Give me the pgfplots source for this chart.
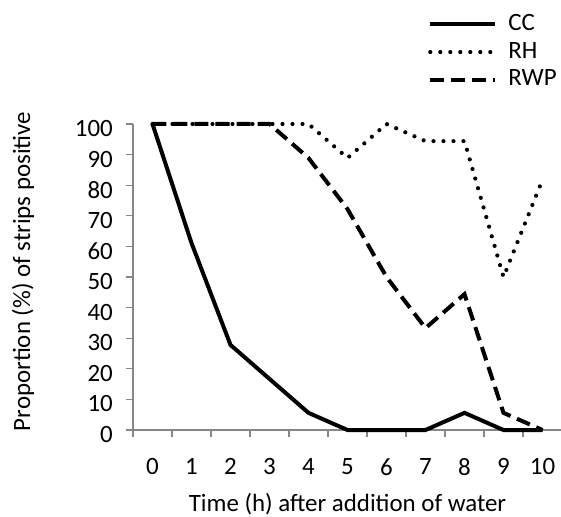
\documentclass[border=0pt]{standalone}
\usepackage{fontspec}
\setmainfont{Carlito}
\usepackage{pgfplots}
\pgfplotsset{compat=1.18}
\definecolor{axisgray}{RGB}{134,134,134}
\begin{document}
\fontsize{25}{30}\selectfont
\begin{tikzpicture}[font=\fontsize{25}{30}\selectfont]
\path[use as bounding box] (-133bp,-87bp) rectangle (428bp,430bp);
\begin{axis}[
    at={(0,0)}, anchor=south west,
    width=429bp, height=306bp, scale only axis,
    xmin=-0.5, xmax=10.5, ymin=0, ymax=100,
    axis x line=bottom, axis y line=left,
    axis line style={-, draw=axisgray, line width=1.2bp},
    xtick={0,...,10}, ytick={0,10,...,100},
    minor xtick={-0.5,0.5,...,10.5},
    tick align=outside,
    major tick length=7bp, minor tick length=7bp,
    tick style={axisgray, line width=1.2bp},
    major x tick style={draw=none},
    /pgf/number format/assume math mode=true,
    tick label style={font=\fontsize{25}{30}\selectfont, inner sep=0pt},
    xticklabel style={anchor=north, yshift=-21bp},
    yticklabel style={anchor=east, xshift=-13bp, yshift=-4.5bp},
    xlabel={Time (h) after addition of water},
    ylabel={Proportion (\%) of strips positive},
    label style={font=\fontsize{25}{30}\selectfont, inner sep=0pt},
    xlabel style={at={(axis description cs:0.5,-0.265)}, anchor=base},
    ylabel style={at={(axis description cs:-0.24,0.518)}, anchor=base},
    clip=false,
    legend style={at={(axis description cs:0.6876,1.365)}, anchor=north west,
        draw=none, fill=none, font=\fontsize{25}{30}\selectfont,
        inner sep=0pt, row sep=4bp,
        cells={anchor=west, inner sep=0pt, text height=16bp, text depth=0bp}},
    legend image code/.code={\draw[#1] (0bp,0bp) -- (65bp,0bp);},
]

\addplot[black, line width=4bp] coordinates {
    (0,100) (1,61.1) (2,27.8) (3,16.7) (4,5.6) (5,0) (6,0) (7,0) (8,5.6) (9,0) (10,0)
};
\addlegendentry{\hspace{9bp}CC}

\addplot[black, line width=4.2bp, line cap=round, dash pattern=on 0bp off 10bp] coordinates {
    (0,100) (1,100) (2,100) (3,100) (4,100) (5,88.9) (6,100) (7,94.4) (8,94.4) (9,50) (10,81.8)
};
\addlegendentry{\hspace{9bp}RH}

\addplot[black, line width=4bp, dash pattern=on 14bp off 7bp] coordinates {
    (0,100) (1,100) (2,100) (3,100) (4,88.9) (5,72.2) (6,50) (7,33.3) (8,44.4) (9,5.6) (10,0)
};
\addlegendentry{\hspace{9bp}RWP}

\end{axis}
\end{tikzpicture}
\end{document}
